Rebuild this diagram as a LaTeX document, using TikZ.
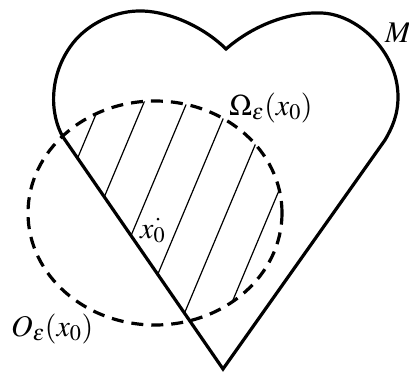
\documentclass[tikz,border=0pt]{standalone}
\usepackage{mathptmx}
\begin{document}
\begin{tikzpicture}[x=1pt,y=-1pt,
  heartline/.style={line width=3.2pt, line join=miter},
  ballline/.style={line width=3.2pt, dash pattern=on 12pt off 8pt},
  hatchline/.style={line width=1.2pt},
  lab/.style={inner sep=0pt, font=\fontsize{30}{36}\selectfont}]
\useasboundingbox (0,0) rectangle (409,372);
\coordinate (tip) at (223,369);
\coordinate (lj) at (63,137);
\coordinate (cusp) at (226,49);
\coordinate (rj) at (385,140);
% heart
\draw[heartline] (tip) -- (lj)
  .. controls (50,115) and (48,75) .. (73,43)
  .. controls (88,24) and (115,10) .. (143,11)
  .. controls (171,12) and (205,28) .. (cusp)
  .. controls (250,28) and (285,12) .. (320,13)
  .. controls (355,13) and (398,50) .. (398,97)
  .. controls (398,115) and (392,128) .. (rj) -- cycle;
% hatching
\begin{scope}
  \clip (155,213) ellipse [x radius=127pt, y radius=112pt];
  \clip (-33,-2) -- (271,439) -- (500,439) -- (500,-2) -- cycle;
  \foreach \c in {144,187,230,273,316,359}
    \draw[hatchline] (\c-168,400) -- (\c,0);
\end{scope}
% neighbourhood
\draw[ballline] (155,213) ellipse [x radius=127pt, y radius=112pt];
% labels
\node[lab, anchor=base west] (M) at (385,42) {$M$};
\node[lab, anchor=base west] (om) at (229,115) {$\Omega_\varepsilon(x_0)$};
\node[lab, anchor=base west] (oe) at (11,336) {$O_\varepsilon(x_0)$};
\node[lab, anchor=base west] (xz) at (140,238) {$x_0$};
\node[circle, fill, inner sep=0pt, minimum size=3pt] (x0pt) at (158,219) {};
\end{tikzpicture}
\end{document}
